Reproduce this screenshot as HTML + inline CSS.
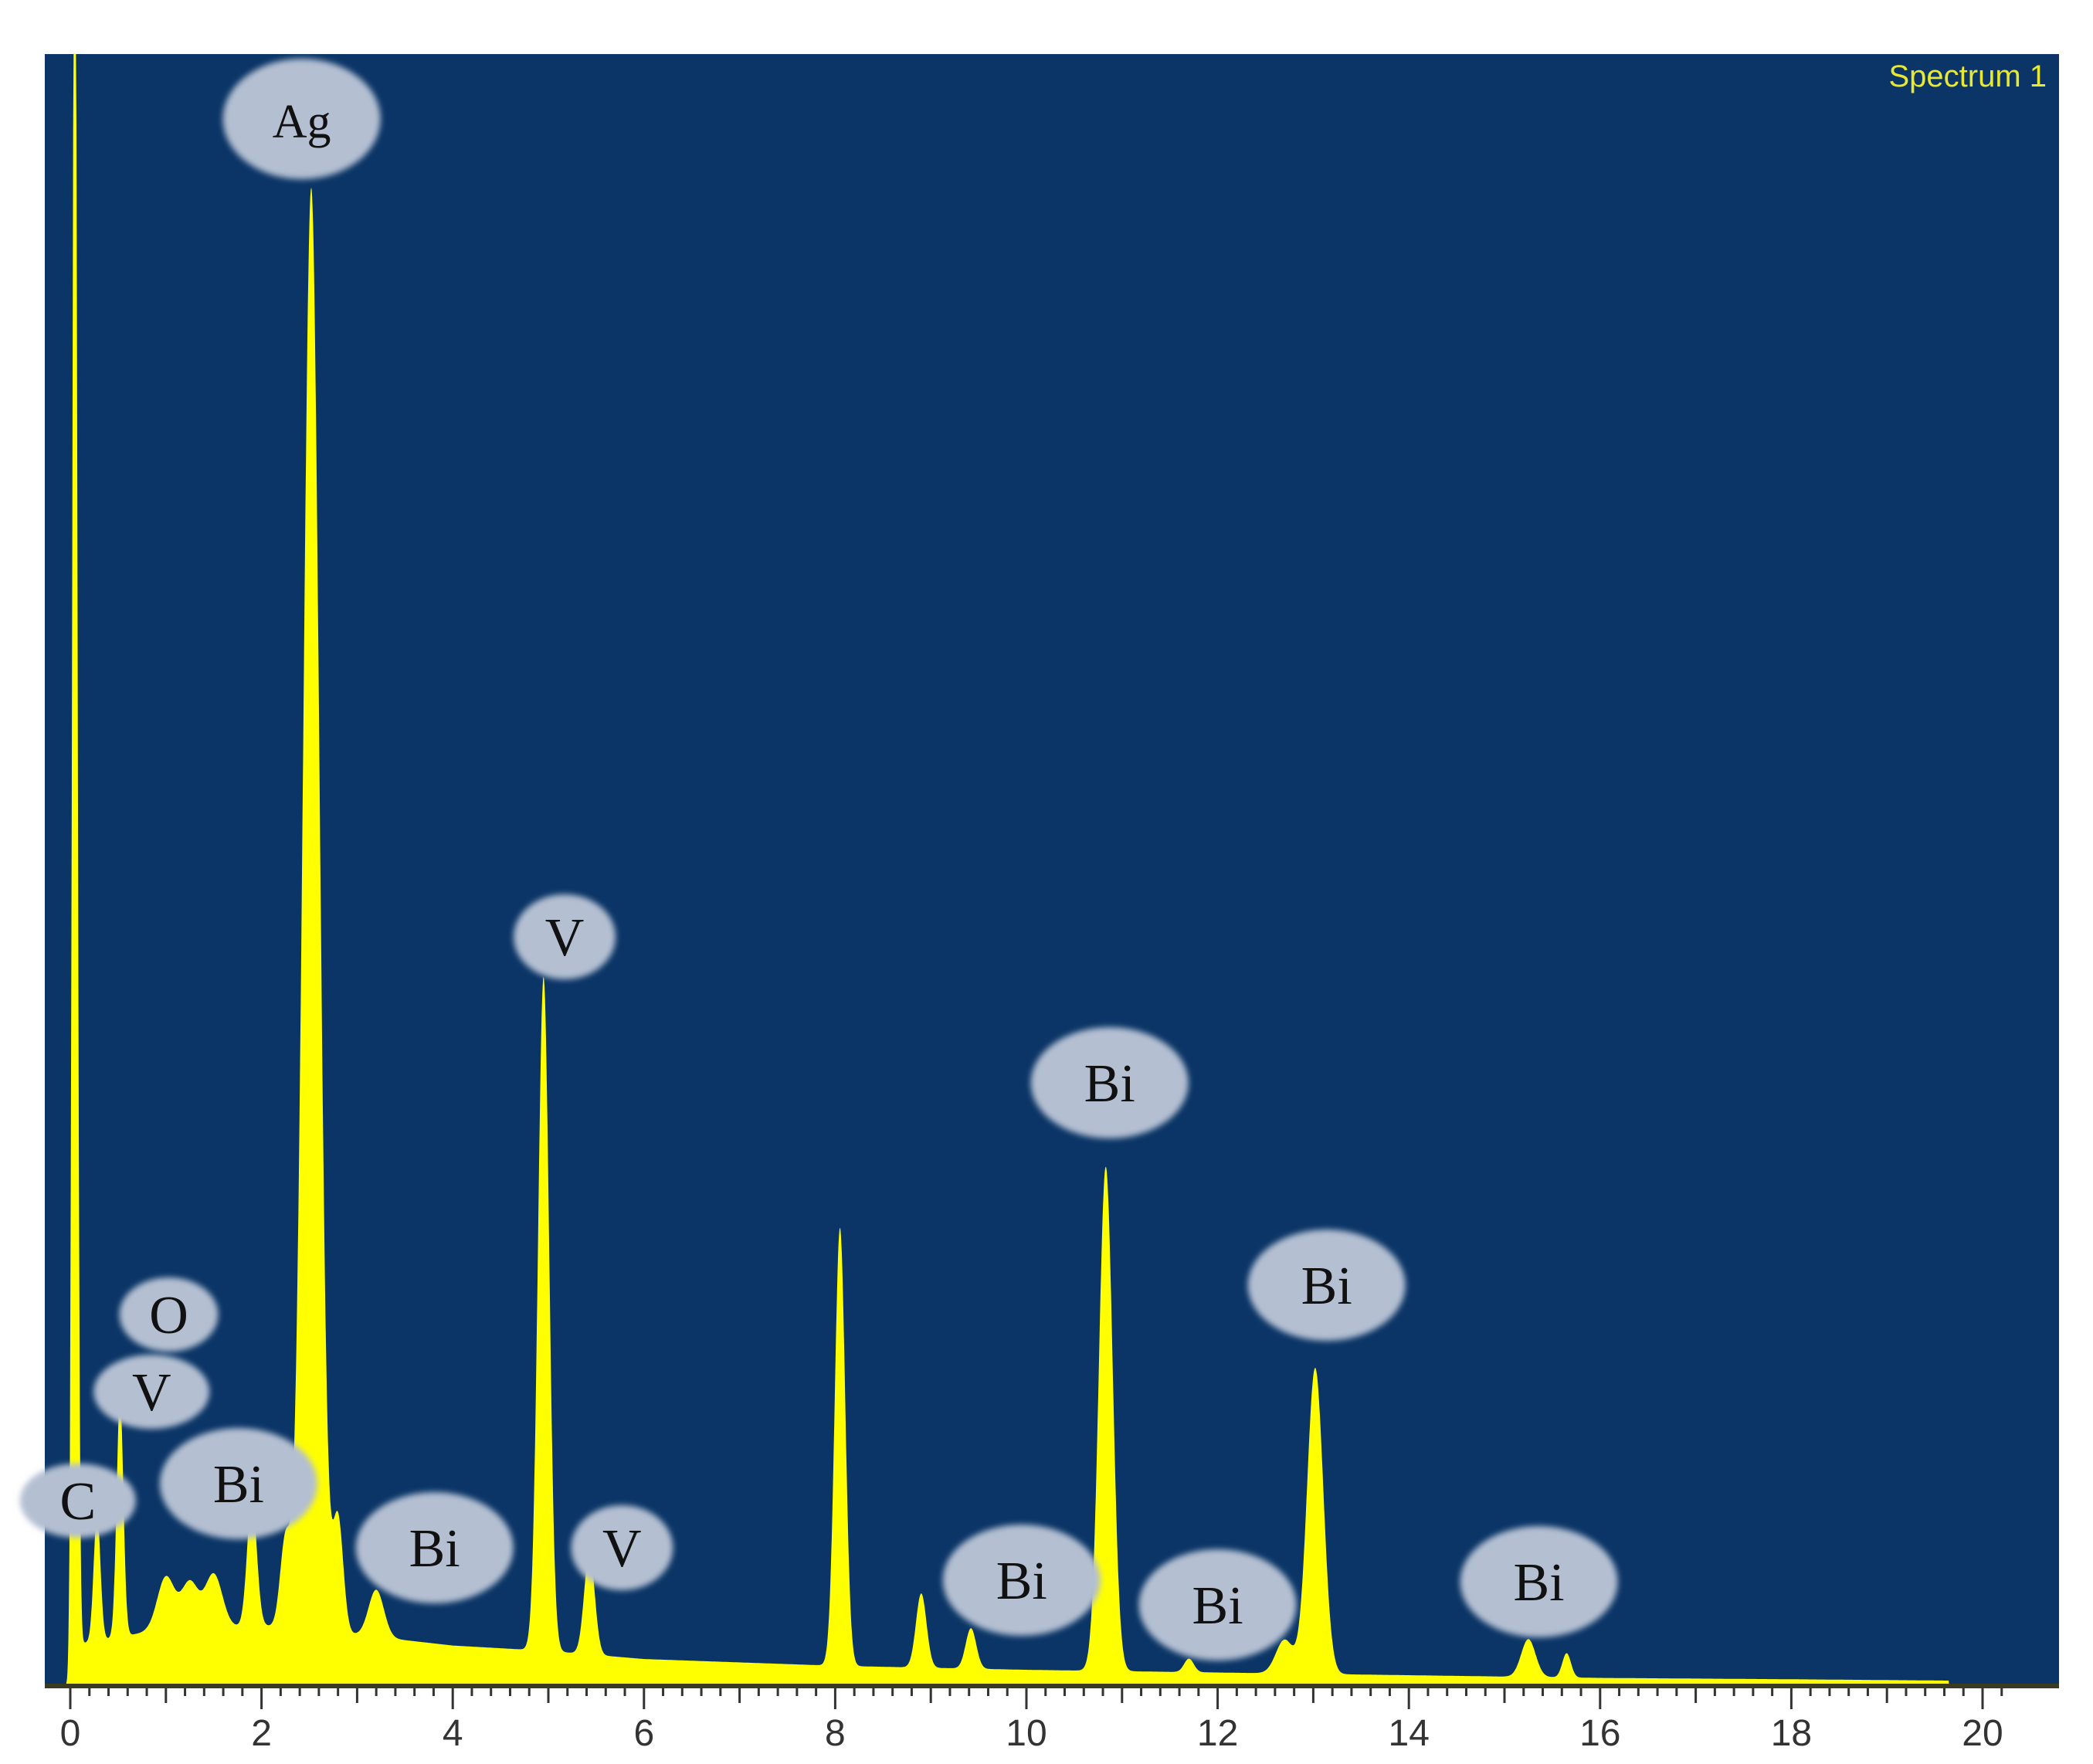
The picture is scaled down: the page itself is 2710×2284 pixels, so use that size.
<!DOCTYPE html>
<html><head><meta charset="utf-8"><style>
html,body{margin:0;padding:0;background:#fff}
svg{display:block}
</style></head><body>
<svg id="chart" width="2710" height="2284" viewBox="0 0 2710 2284" xmlns="http://www.w3.org/2000/svg">
<defs><filter id="blur" x="-20%" y="-20%" width="140%" height="140%"><feGaussianBlur stdDeviation="4"/></filter></defs>
<rect x="58" y="70" width="2608" height="2113" fill="#0a3566"/>
<g id="spectrum"></g>
<g id="labels"></g>
<g id="axis"></g>
<text x="2650" y="112" text-anchor="end" font-family="Liberation Sans, sans-serif" font-size="40" fill="#e8e830">Spectrum 1</text>
</svg>
<script>
const peakEnergies=[0.03,0.05,0.28,0.52,1.0,1.25,1.5,1.9,2.25,2.52,2.8,3.2,4.95,5.43,8.05,8.9,9.42,10.83,11.7,12.7,13.02,15.25,15.65];
const peakHeights=[180,1300,95,178,40,35,40,95,65,1070,85,35,500,76,325,55,30,374,10,25,227,28,18];
const peakWidths=[0.02,0.025,0.035,0.035,0.09,0.09,0.09,0.05,0.055,0.085,0.055,0.08,0.058,0.055,0.055,0.055,0.055,0.072,0.05,0.09,0.085,0.075,0.045];
const bgEnergies=[0,0.8,2,3,4,5,6,8,10,12,14,16,18,19.65,19.66,20.5];
const bgCounts=[30,40,45,38,30,26,20,15,12,10,8,6,5,4,0,0];
const labelText=["Ag","V","Bi","Bi","O","V","C","Bi","Bi","V","Bi","Bi","Bi"];
const labelEnergy=[2.42,5.17,10.87,13.14,1.03,0.85,0.08,1.76,3.81,5.77,9.95,12.0,15.36];
const labelY=[154,1213,1402,1664,1702,1802,1943,1921,2004,2004,2046,2078,2048];
const tickValues=[0,2,4,6,8,10,12,14,16,18,20];

const X0=91,PX=123.8,BASE=2183,PY=1.746;
const xs=e=>X0+e*PX, ys=c=>BASE-c*PY;
const NS="http://www.w3.org/2000/svg";
function bg(e){for(let i=0;i<bgEnergies.length-1;i++){if(e>=bgEnergies[i]&&e<=bgEnergies[i+1]){const t=(e-bgEnergies[i])/(bgEnergies[i+1]-bgEnergies[i]);return bgCounts[i]+t*(bgCounts[i+1]-bgCounts[i]);}}return 0;}
function cnt(e){let c=bg(e);if(e>19.65)return 0;for(let i=0;i<peakEnergies.length;i++){const d=(e-peakEnergies[i])/peakWidths[i];c+=peakHeights[i]*Math.exp(-0.5*d*d);}return c;}
let d="M"+xs(-0.2)+","+BASE;
for(let e=-0.2;e<=20.4;e+=0.005){let y=Math.max(70,ys(cnt(e)));d+=" L"+xs(e).toFixed(1)+","+y.toFixed(1);}
d+=" L"+xs(20.4)+","+BASE+" Z";
const sp=document.createElementNS(NS,"path");


sp.setAttribute("d",d);sp.setAttribute("fill","#ffff00");
document.getElementById("spectrum").appendChild(sp);

const lg=document.getElementById("labels");
labelText.forEach((t,i)=>{
 const g=document.createElementNS(NS,"g");
 
 
 const wide=t.length>1;
 const cx=xs(labelEnergy[i]),cy=labelY[i];
 const el=document.createElementNS(NS,"ellipse");
 el.setAttribute("cx",cx);el.setAttribute("cy",cy);
 let rx=wide?102:75,ry=wide?72:48;
 if(t==="Ag"){ry=78;}
 if(i===1||i===9){rx=66;ry=55;}
 if(t==="O"){rx=64;}
 el.setAttribute("rx",rx);el.setAttribute("ry",ry);
 el.setAttribute("fill","#b4bfd2");el.setAttribute("filter","url(#blur)");
 const tx=document.createElementNS(NS,"text");
 tx.setAttribute("x",cx);tx.setAttribute("y",cy+24);
 tx.setAttribute("text-anchor","middle");tx.setAttribute("font-family","Liberation Serif, serif");
 tx.setAttribute("font-size",t==="Ag"?"62":"70");tx.setAttribute("fill","#111");
 tx.textContent=t;
 g.appendChild(el);g.appendChild(tx);lg.appendChild(g);
});

const ax=document.getElementById("axis");
const bl=document.createElementNS(NS,"rect");


bl.setAttribute("x",58);bl.setAttribute("y",BASE-3);bl.setAttribute("width",2608);bl.setAttribute("height",6);bl.setAttribute("fill","#3a3a20");
ax.appendChild(bl);
for(let k=0;k<=101;k++){
 const e=k*0.2;const x=xs(e);if(x>2660)break;
 const major=k%10===0,mid=k%5===0;
 const l=document.createElementNS(NS,"line");
 
 
 l.setAttribute("x1",x);l.setAttribute("x2",x);l.setAttribute("y1",BASE+3);l.setAttribute("y2",BASE+(major?30:mid?22:13));
 l.setAttribute("stroke","#333");l.setAttribute("stroke-width",3);ax.appendChild(l);
}
tickValues.forEach(v=>{
 const t=document.createElementNS(NS,"text");
 
 
 t.setAttribute("x",xs(v));t.setAttribute("y",2260);t.setAttribute("text-anchor","middle");
 t.setAttribute("font-family","Liberation Sans Narrow, Liberation Sans, sans-serif");t.setAttribute("font-size","48");t.setAttribute("fill","#333");
 t.textContent=v;ax.appendChild(t);
});
</script>
</body></html>
